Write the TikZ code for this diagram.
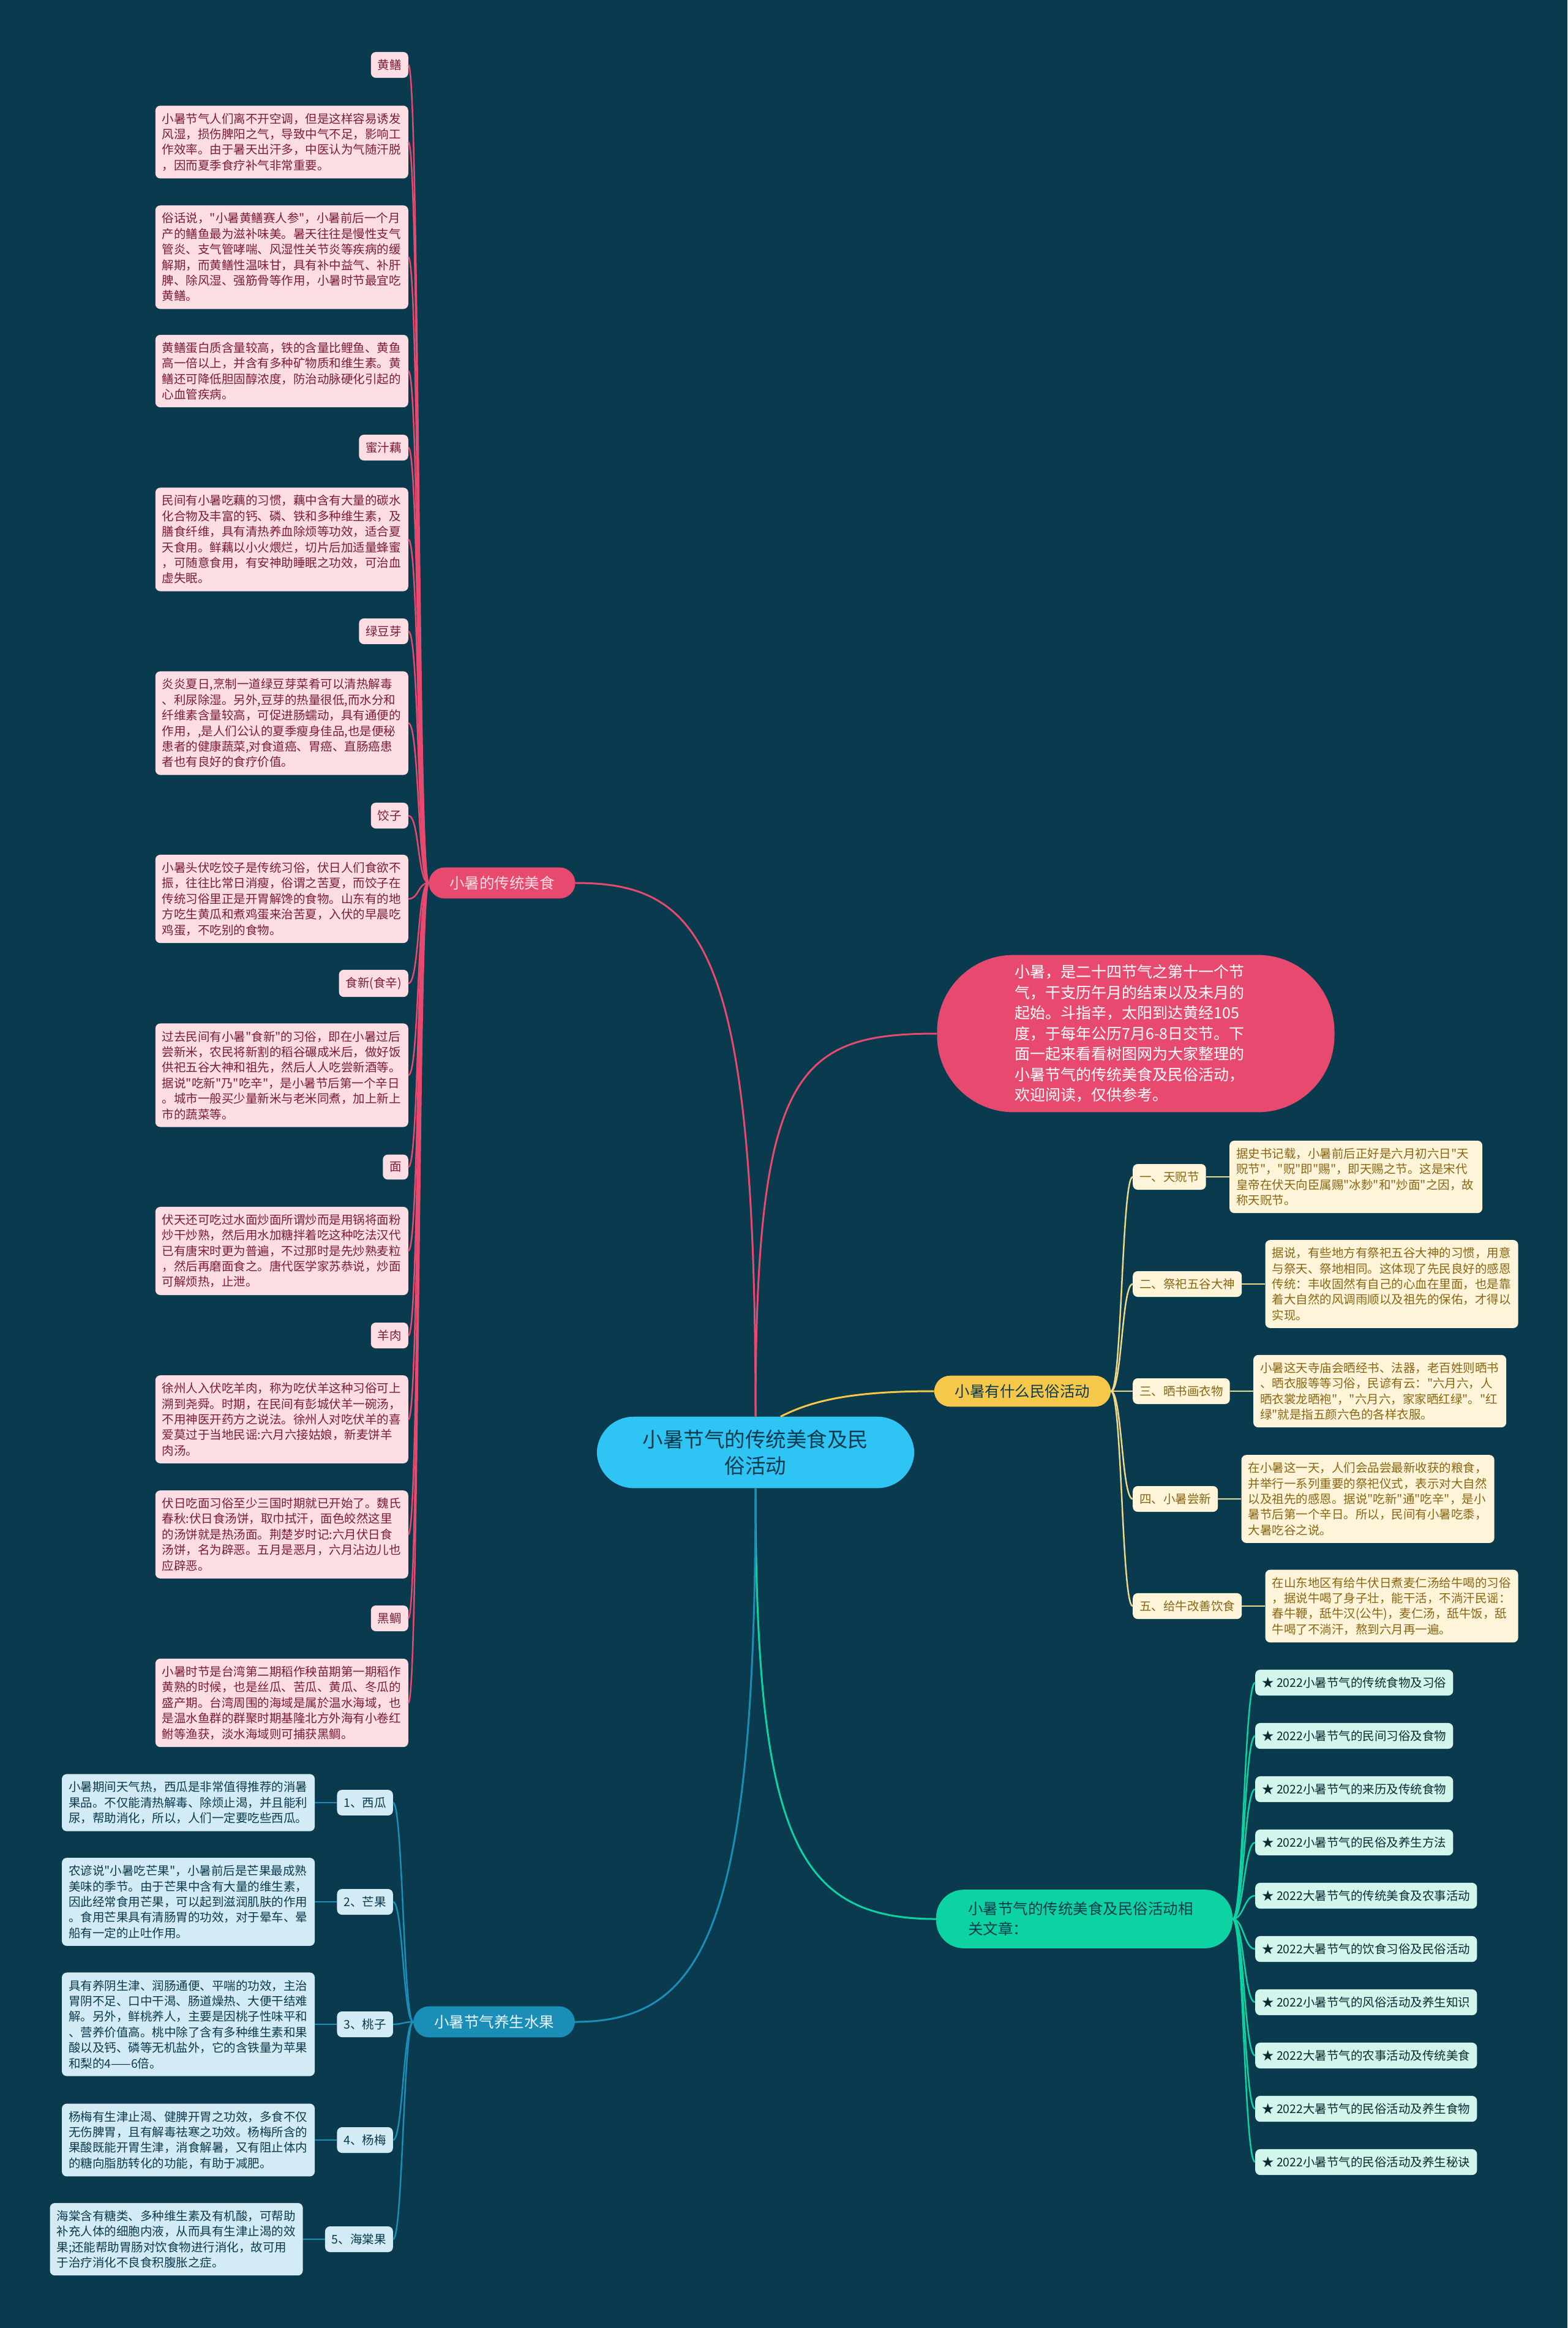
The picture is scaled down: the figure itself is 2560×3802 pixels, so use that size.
\documentclass[tikz,border=0pt]{standalone}
\usepackage{fontspec}
\newfontfamily\cjkfont{Noto Sans CJK SC}
\usetikzlibrary{positioning}

\definecolor{bgblue}{HTML}{0A3A4D}
\definecolor{rootcyan}{HTML}{2EC4F3}
\definecolor{rosered}{HTML}{E8496E}
\definecolor{rosefill}{HTML}{FCDDE4}
\definecolor{rosetext}{HTML}{7B1D34}
\definecolor{sunyellow}{HTML}{F6C84A}
\definecolor{creamfill}{HTML}{FDF4DA}
\definecolor{goldtext}{HTML}{8A6612}
\definecolor{creamline}{HTML}{EED88B}
\definecolor{mintgreen}{HTML}{0DD3A2}
\definecolor{mintfill}{HTML}{D3F6EC}
\definecolor{skyblue}{HTML}{1B8EB8}
\definecolor{skyfill}{HTML}{D3EBF4}
\definecolor{darktext}{HTML}{0B3A4D}
\definecolor{inktext}{HTML}{0B2B33}
\definecolor{paletext}{HTML}{E6F6FC}

\begin{document}
\begin{tikzpicture}[x=1pt,y=-1pt,
    leafbox/.style={rounded corners=8pt,inner xsep=11pt,inner ysep=12pt,
        font=\cjkfont\fontsize{19.5pt}{25.4pt}\selectfont},
    leaftext/.style={text width=391pt,align=left},
    pinkleaf/.style={leafbox,fill=rosefill,text=rosetext},
    yellowleaf/.style={leafbox,fill=creamfill,text=goldtext},
    greenleaf/.style={leafbox,fill=mintfill,text=inktext},
    blueleaf/.style={leafbox,fill=skyfill,text=darktext},
    branchbox/.style={rounded corners=26pt,inner xsep=34pt,inner ysep=14pt,
        font=\cjkfont\fontsize{24.5pt}{33pt}\selectfont},
    mainline/.style={line width=3pt},
    pinkline/.style={draw=rosered,line width=2.5pt},
    yellowline/.style={draw=creamline,line width=2.5pt},
    greenline/.style={draw=mintgreen,line width=2.5pt},
    blueline/.style={draw=skyblue,line width=2.5pt}
]
    \fill[bgblue] (0,0) rectangle (2560,3802);

    \node[fill=rootcyan,text=darktext,rounded corners=60pt,inner xsep=75pt,inner ysep=21pt,
        align=center,font=\cjkfont\fontsize{33.5pt}{43.5pt}\selectfont] (Root) at (1234,2372) {小暑节气的传统美食及民\\俗活动};

    \node[fill=rosered,text=white,rounded corners=125pt,inner xsep=127pt,inner ysep=16pt,
        text width=395pt,align=left,font=\cjkfont\fontsize{25pt}{33.5pt}\selectfont] (Intro) at (1855,1688) {小暑，是二十四节气之第十一个节\\
气，干支历午月的结束以及未月的\\
起始。斗指辛，太阳到达黄经105\\
度，于每年公历7月6-8日交节。下\\
面一起来看看树图网为大家整理的\\
小暑节气的传统美食及民俗活动，\\
欢迎阅读，仅供参考。};

    \node[branchbox,fill=rosered,text=rosefill] (Food) at (820,1442) {小暑的传统美食};
    \node[branchbox,fill=sunyellow,text=darktext] (Customs) at (1670,2272) {小暑有什么民俗活动};
    \node[branchbox,fill=skyblue,text=paletext] (Fruits) at (807,3302) {小暑节气养生水果};
    \node[branchbox,fill=mintgreen,text=darktext,rounded corners=45pt,inner xsep=52pt,inner ysep=20pt,
        text width=380pt,align=left] (Articles) at (1771,3134) {小暑节气的传统美食及民俗活动相\\关文章：};

    \node[pinkleaf,anchor=east] (Eel) at (667,106) {黄鳝};
    \node[pinkleaf,leaftext,anchor=east] (EelA) at (667,232) {小暑节气人们离不开空调，但是这样容易诱发\\
风湿，损伤脾阳之气，导致中气不足，影响工\\
作效率。由于暑天出汗多，中医认为气随汗脱\\
，因而夏季食疗补气非常重要。};
    \node[pinkleaf,leaftext,anchor=east] (EelB) at (667,420) {俗话说，"小暑黄鳝赛人参"，小暑前后一个月\\
产的鳝鱼最为滋补味美。暑天往往是慢性支气\\
管炎、支气管哮喘、风湿性关节炎等疾病的缓\\
解期，而黄鳝性温味甘，具有补中益气、补肝\\
脾、除风湿、强筋骨等作用，小暑时节最宜吃\\
黄鳝。};
    \node[pinkleaf,leaftext,anchor=east] (EelC) at (667,606) {黄鳝蛋白质含量较高，铁的含量比鲤鱼、黄鱼\\
高一倍以上，并含有多种矿物质和维生素。黄\\
鳝还可降低胆固醇浓度，防治动脉硬化引起的\\
心血管疾病。};
    \node[pinkleaf,anchor=east] (Lotus) at (667,731) {蜜汁藕};
    \node[pinkleaf,leaftext,anchor=east] (LotusA) at (667,881) {民间有小暑吃藕的习惯，藕中含有大量的碳水\\
化合物及丰富的钙、磷、铁和多种维生素，及\\
膳食纤维，具有清热养血除烦等功效，适合夏\\
天食用。鲜藕以小火煨烂，切片后加适量蜂蜜\\
，可随意食用，有安神助睡眠之功效，可治血\\
虚失眠。};
    \node[pinkleaf,anchor=east] (Sprout) at (667,1031) {绿豆芽};
    \node[pinkleaf,leaftext,anchor=east] (SproutA) at (667,1181) {炎炎夏日,烹制一道绿豆芽菜肴可以清热解毒\\
、利尿除湿。另外,豆芽的热量很低,而水分和\\
纤维素含量较高，可促进肠蠕动，具有通便的\\
作用，,是人们公认的夏季瘦身佳品,也是便秘\\
患者的健康蔬菜,对食道癌、胃癌、直肠癌患\\
者也有良好的食疗价值。};
    \node[pinkleaf,anchor=east] (Dumpling) at (667,1332) {饺子};
    \node[pinkleaf,leaftext,anchor=east] (DumplingA) at (667,1468) {小暑头伏吃饺子是传统习俗，伏日人们食欲不\\
振，往往比常日消瘦，俗谓之苦夏，而饺子在\\
传统习俗里正是开胃解馋的食物。山东有的地\\
方吃生黄瓜和煮鸡蛋来治苦夏，入伏的早晨吃\\
鸡蛋，不吃别的食物。};
    \node[pinkleaf,anchor=east] (NewRice) at (667,1606) {食新(食辛)};
    \node[pinkleaf,leaftext,anchor=east] (NewRiceA) at (667,1756) {过去民间有小暑"食新"的习俗，即在小暑过后\\
尝新米，农民将新割的稻谷碾成米后，做好饭\\
供祀五谷大神和祖先，然后人人吃尝新酒等。\\
据说"吃新"乃"吃辛"，是小暑节后第一个辛日\\
。城市一般买少量新米与老米同煮，加上新上\\
市的蔬菜等。};
    \node[pinkleaf,anchor=east] (Noodle) at (667,1906) {面};
    \node[pinkleaf,leaftext,anchor=east] (NoodleA) at (667,2043) {伏天还可吃过水面炒面所谓炒而是用锅将面粉\\
炒干炒熟，然后用水加糖拌着吃这种吃法汉代\\
已有唐宋时更为普遍，不过那时是先炒熟麦粒\\
，然后再磨面食之。唐代医学家苏恭说，炒面\\
可解烦热，止泄。};
    \node[pinkleaf,anchor=east] (Mutton) at (667,2181) {羊肉};
    \node[pinkleaf,leaftext,anchor=east] (MuttonA) at (667,2318) {徐州人入伏吃羊肉，称为吃伏羊这种习俗可上\\
溯到尧舜。时期，在民间有彭城伏羊一碗汤，\\
不用神医开药方之说法。徐州人对吃伏羊的喜\\
爱莫过于当地民谣:六月六接姑娘，新麦饼羊\\
肉汤。};
    \node[pinkleaf,leaftext,anchor=east] (SoupCake) at (667,2506) {伏日吃面习俗至少三国时期就已开始了。魏氏\\
春秋:伏日食汤饼，取巾拭汗，面色皎然这里\\
的汤饼就是热汤面。荆楚岁时记:六月伏日食\\
汤饼，名为辟恶。五月是恶月，六月沾边儿也\\
应辟恶。};
    \node[pinkleaf,anchor=east] (Bream) at (667,2643) {黑鲷};
    \node[pinkleaf,leaftext,anchor=east] (BreamA) at (667,2781) {小暑时节是台湾第二期稻作秧苗期第一期稻作\\
黄熟的时候，也是丝瓜、苦瓜、黄瓜、冬瓜的\\
盛产期。台湾周围的海域是属於温水海域，也\\
是温水鱼群的群聚时期基隆北方外海有小卷红\\
鲋等渔获，淡水海域则可捕获黑鲷。};

    \node[yellowleaf,anchor=west] (Tiankuang) at (1850,1922) {一、天贶节};
    \node[yellowleaf,leaftext,right=38pt of Tiankuang] (TiankuangText) {据史书记载，小暑前后正好是六月初六日"天\\
贶节"，"贶"即"赐"，即天赐之节。这是宋代\\
皇帝在伏天向臣属赐"冰麨"和"炒面"之因，故\\
称天贶节。};
    \node[yellowleaf,anchor=west] (Wugu) at (1850,2097) {二、祭祀五谷大神};
    \node[yellowleaf,leaftext,right=38pt of Wugu] (WuguText) {据说，有些地方有祭祀五谷大神的习惯，用意\\
与祭天、祭地相同。这体现了先民良好的感恩\\
传统：丰收固然有自己的心血在里面，也是靠\\
着大自然的风调雨顺以及祖先的保佑，才得以\\
实现。};
    \node[yellowleaf,anchor=west] (Shaishu) at (1850,2272) {三、晒书画衣物};
    \node[yellowleaf,leaftext,right=38pt of Shaishu] (ShaishuText) {小暑这天寺庙会晒经书、法器，老百姓则晒书\\
、晒衣服等等习俗，民谚有云："六月六，人\\
晒衣裳龙晒袍"，"六月六，家家晒红绿"。"红\\
绿"就是指五颜六色的各样衣服。};
    \node[yellowleaf,anchor=west] (Changxin) at (1850,2448) {四、小暑尝新};
    \node[yellowleaf,leaftext,right=38pt of Changxin] (ChangxinText) {在小暑这一天，人们会品尝最新收获的粮食，\\
并举行一系列重要的祭祀仪式，表示对大自然\\
以及祖先的感恩。据说"吃新"通"吃辛"，是小\\
暑节后第一个辛日。所以，民间有小暑吃黍，\\
大暑吃谷之说。};
    \node[yellowleaf,anchor=west] (Niu) at (1850,2623) {五、给牛改善饮食};
    \node[yellowleaf,leaftext,right=38pt of Niu] (NiuText) {在山东地区有给牛伏日煮麦仁汤给牛喝的习俗\\
，据说牛喝了身子壮，能干活，不淌汗民谣：\\
春牛鞭，舐牛汉(公牛)，麦仁汤，舐牛饭，舐\\
牛喝了不淌汗，熬到六月再一遍。};

    \node[greenleaf,anchor=west] (ArtA) at (2050,2748) {★ 2022小暑节气的传统食物及习俗};
    \node[greenleaf,anchor=west] (ArtB) at (2050,2835) {★ 2022小暑节气的民间习俗及食物};
    \node[greenleaf,anchor=west] (ArtC) at (2050,2922) {★ 2022小暑节气的来历及传统食物};
    \node[greenleaf,anchor=west] (ArtD) at (2050,3009) {★ 2022小暑节气的民俗及养生方法};
    \node[greenleaf,anchor=west] (ArtE) at (2050,3096) {★ 2022大暑节气的传统美食及农事活动};
    \node[greenleaf,anchor=west] (ArtF) at (2050,3183) {★ 2022大暑节气的饮食习俗及民俗活动};
    \node[greenleaf,anchor=west] (ArtG) at (2050,3270) {★ 2022小暑节气的风俗活动及养生知识};
    \node[greenleaf,anchor=west] (ArtH) at (2050,3357) {★ 2022大暑节气的农事活动及传统美食};
    \node[greenleaf,anchor=west] (ArtI) at (2050,3444) {★ 2022大暑节气的民俗活动及养生食物};
    \node[greenleaf,anchor=west] (ArtJ) at (2050,3531) {★ 2022小暑节气的民俗活动及养生秘诀};

    \node[blueleaf,anchor=east] (Melon) at (642,2944) {1、西瓜};
    \node[blueleaf,leaftext,left=36pt of Melon] (MelonText) {小暑期间天气热，西瓜是非常值得推荐的消暑\\
果品。不仅能清热解毒、除烦止渴，并且能利\\
尿，帮助消化，所以，人们一定要吃些西瓜。};
    \node[blueleaf,anchor=east] (Mango) at (642,3106) {2、芒果};
    \node[blueleaf,leaftext,left=36pt of Mango] (MangoText) {农谚说"小暑吃芒果"，小暑前后是芒果最成熟\\
美味的季节。由于芒果中含有大量的维生素，\\
因此经常食用芒果，可以起到滋润肌肤的作用\\
。食用芒果具有清肠胃的功效，对于晕车、晕\\
船有一定的止吐作用。};
    \node[blueleaf,anchor=east] (Peach) at (642,3306) {3、桃子};
    \node[blueleaf,leaftext,left=36pt of Peach] (PeachText) {具有养阴生津、润肠通便、平喘的功效，主治\\
胃阴不足、口中干渴、肠道燥热、大便干结难\\
解。另外，鲜桃养人，主要是因桃子性味平和\\
、营养价值高。桃中除了含有多种维生素和果\\
酸以及钙、磷等无机盐外，它的含铁量为苹果\\
和梨的4——6倍。};
    \node[blueleaf,anchor=east] (Bayberry) at (642,3495) {4、杨梅};
    \node[blueleaf,leaftext,left=36pt of Bayberry] (BayberryText) {杨梅有生津止渴、健脾开胃之功效，多食不仅\\
无伤脾胃，且有解毒祛寒之功效。杨梅所含的\\
果酸既能开胃生津，消食解暑，又有阻止体内\\
的糖向脂肪转化的功能，有助于减肥。};
    \node[blueleaf,anchor=east] (Crabapple) at (642,3657) {5、海棠果};
    \node[blueleaf,leaftext,left=36pt of Crabapple] (CrabappleText) {海棠含有糖类、多种维生素及有机酸，可帮助\\
补充人体的细胞内液，从而具有生津止渴的效\\
果;还能帮助胃肠对饮食物进行消化，故可用\\
于治疗消化不良食积腹胀之症。};

    \draw[rosered,mainline] (Root.north) .. controls (1234,1750) and (1300,1688) .. (Intro.west);
    \draw[rosered,mainline] (Root.north) .. controls (1234,1550) and (1150,1442) .. (Food.east);
    \draw[sunyellow,mainline] ([xshift=41pt]Root.north) .. controls (1330,2285) and (1400,2272) .. (Customs.west);
    \draw[mintgreen,mainline] (Root.south) .. controls (1234,3000) and (1300,3134) .. (Articles.west);
    \draw[skyblue,mainline] (Root.south) .. controls (1234,3150) and (1150,3302) .. (Fruits.east);

    \draw[pinkline] (Food.west) .. controls +(-18,0) and +(18,0) .. (Eel.east);
    \draw[pinkline] (Food.west) .. controls +(-18,0) and +(18,0) .. (EelA.east);
    \draw[pinkline] (Food.west) .. controls +(-18,0) and +(18,0) .. (EelB.east);
    \draw[pinkline] (Food.west) .. controls +(-18,0) and +(18,0) .. (EelC.east);
    \draw[pinkline] (Food.west) .. controls +(-18,0) and +(18,0) .. (Lotus.east);
    \draw[pinkline] (Food.west) .. controls +(-18,0) and +(18,0) .. (LotusA.east);
    \draw[pinkline] (Food.west) .. controls +(-18,0) and +(18,0) .. (Sprout.east);
    \draw[pinkline] (Food.west) .. controls +(-18,0) and +(18,0) .. (SproutA.east);
    \draw[pinkline] (Food.west) .. controls +(-18,0) and +(18,0) .. (Dumpling.east);
    \draw[pinkline] (Food.west) .. controls +(-18,0) and +(18,0) .. (DumplingA.east);
    \draw[pinkline] (Food.west) .. controls +(-18,0) and +(18,0) .. (NewRice.east);
    \draw[pinkline] (Food.west) .. controls +(-18,0) and +(18,0) .. (NewRiceA.east);
    \draw[pinkline] (Food.west) .. controls +(-18,0) and +(18,0) .. (Noodle.east);
    \draw[pinkline] (Food.west) .. controls +(-18,0) and +(18,0) .. (NoodleA.east);
    \draw[pinkline] (Food.west) .. controls +(-18,0) and +(18,0) .. (Mutton.east);
    \draw[pinkline] (Food.west) .. controls +(-18,0) and +(18,0) .. (MuttonA.east);
    \draw[pinkline] (Food.west) .. controls +(-18,0) and +(18,0) .. (SoupCake.east);
    \draw[pinkline] (Food.west) .. controls +(-18,0) and +(18,0) .. (Bream.east);
    \draw[pinkline] (Food.west) .. controls +(-18,0) and +(18,0) .. (BreamA.east);

    \draw[yellowline] (Customs.east) .. controls +(18,0) and +(-18,0) .. (Tiankuang.west);
    \draw[yellowline] (Customs.east) .. controls +(18,0) and +(-18,0) .. (Wugu.west);
    \draw[yellowline] (Customs.east) .. controls +(18,0) and +(-18,0) .. (Shaishu.west);
    \draw[yellowline] (Customs.east) .. controls +(18,0) and +(-18,0) .. (Changxin.west);
    \draw[yellowline] (Customs.east) .. controls +(18,0) and +(-18,0) .. (Niu.west);
    \draw[yellowline] (Tiankuang) -- (TiankuangText);
    \draw[yellowline] (Wugu) -- (WuguText);
    \draw[yellowline] (Shaishu) -- (ShaishuText);
    \draw[yellowline] (Changxin) -- (ChangxinText);
    \draw[yellowline] (Niu) -- (NiuText);

    \draw[greenline] (Articles.east) .. controls +(18,0) and +(-18,0) .. (ArtA.west);
    \draw[greenline] (Articles.east) .. controls +(18,0) and +(-18,0) .. (ArtB.west);
    \draw[greenline] (Articles.east) .. controls +(18,0) and +(-18,0) .. (ArtC.west);
    \draw[greenline] (Articles.east) .. controls +(18,0) and +(-18,0) .. (ArtD.west);
    \draw[greenline] (Articles.east) .. controls +(18,0) and +(-18,0) .. (ArtE.west);
    \draw[greenline] (Articles.east) .. controls +(18,0) and +(-18,0) .. (ArtF.west);
    \draw[greenline] (Articles.east) .. controls +(18,0) and +(-18,0) .. (ArtG.west);
    \draw[greenline] (Articles.east) .. controls +(18,0) and +(-18,0) .. (ArtH.west);
    \draw[greenline] (Articles.east) .. controls +(18,0) and +(-18,0) .. (ArtI.west);
    \draw[greenline] (Articles.east) .. controls +(18,0) and +(-18,0) .. (ArtJ.west);

    \draw[blueline] (Fruits.west) .. controls +(-16,0) and +(16,0) .. (Melon.east);
    \draw[blueline] (Fruits.west) .. controls +(-16,0) and +(16,0) .. (Mango.east);
    \draw[blueline] (Fruits.west) .. controls +(-16,0) and +(16,0) .. (Peach.east);
    \draw[blueline] (Fruits.west) .. controls +(-16,0) and +(16,0) .. (Bayberry.east);
    \draw[blueline] (Fruits.west) .. controls +(-16,0) and +(16,0) .. (Crabapple.east);
    \draw[blueline] (Melon) -- (MelonText);
    \draw[blueline] (Mango) -- (MangoText);
    \draw[blueline] (Peach) -- (PeachText);
    \draw[blueline] (Bayberry) -- (BayberryText);
    \draw[blueline] (Crabapple) -- (CrabappleText);
\end{tikzpicture}
\end{document}
